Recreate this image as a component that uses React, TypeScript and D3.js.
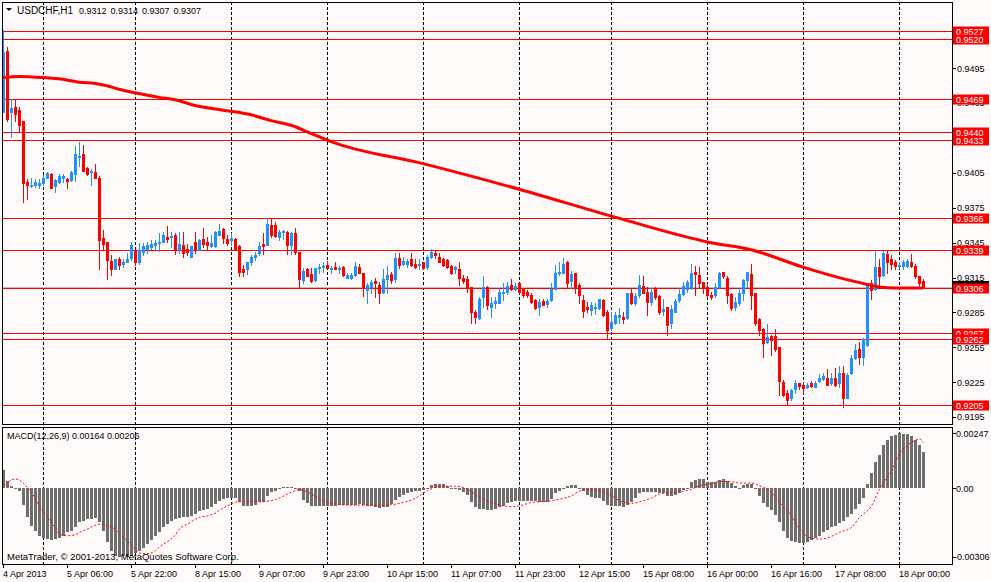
import { useEffect } from 'react';
import * as d3 from 'd3';

// USDCHF H1 candles, 4 Apr 2013 14:00 .. 18 Apr 2013 ~04:00
const opens = [
  0.9457, 0.9510, 0.9457, 0.9462, 0.9459, 0.9450, 0.9397, 0.9394, 0.9395, 0.9395,
  0.9396, 0.9401, 0.9404, 0.9394, 0.9397, 0.9401, 0.9400, 0.9399, 0.9404, 0.9419,
  0.9421, 0.9409, 0.9406, 0.9406, 0.9401, 0.9349, 0.9346, 0.9329, 0.9322, 0.9331,
  0.9327, 0.9328, 0.9332, 0.9339, 0.9328, 0.9337, 0.9340, 0.9341, 0.9343, 0.9345,
  0.9346, 0.9350, 0.9350, 0.9352, 0.9340, 0.9343, 0.9340, 0.9333, 0.9346, 0.9339,
  0.9348, 0.9346, 0.9342, 0.9342, 0.9352, 0.9357, 0.9348, 0.9347, 0.9348, 0.9342,
  0.9322, 0.9322, 0.9328, 0.9333, 0.9336, 0.9344, 0.9343, 0.9360, 0.9360, 0.9350,
  0.9354, 0.9354, 0.9343, 0.9353, 0.9337, 0.9313, 0.9322, 0.9318, 0.9313, 0.9323,
  0.9324, 0.9326, 0.9322, 0.9324, 0.9322, 0.9324, 0.9315, 0.9315, 0.9317, 0.9324,
  0.9319, 0.9304, 0.9307, 0.9312, 0.9309, 0.9303, 0.9314, 0.9318, 0.9314, 0.9332,
  0.9327, 0.9327, 0.9331, 0.9327, 0.9326, 0.9328, 0.9324, 0.9333, 0.9336, 0.9333,
  0.9331, 0.9330, 0.9325, 0.9322, 0.9322, 0.9315, 0.9314, 0.9307, 0.9285, 0.9280,
  0.9298, 0.9307, 0.9290, 0.9293, 0.9293, 0.9302, 0.9303, 0.9309, 0.9305, 0.9310,
  0.9305, 0.9303, 0.9300, 0.9296, 0.9290, 0.9295, 0.9292, 0.9296, 0.9305, 0.9319,
  0.9319, 0.9328, 0.9312, 0.9319, 0.9309, 0.9296, 0.9290, 0.9287, 0.9289, 0.9289,
  0.9296, 0.9285, 0.9272, 0.9276, 0.9281, 0.9281, 0.9280, 0.9302, 0.9293, 0.9300,
  0.9308, 0.9303, 0.9294, 0.9305, 0.9299, 0.9286, 0.9290, 0.9276, 0.9285, 0.9296,
  0.9301, 0.9305, 0.9306, 0.9320, 0.9317, 0.9311, 0.9307, 0.9300, 0.9300, 0.9307,
  0.9320, 0.9315, 0.9301, 0.9290, 0.9293, 0.9302, 0.9313, 0.9318, 0.9302, 0.9279,
  0.9271, 0.9260, 0.9265, 0.9265, 0.9255, 0.9225, 0.9216, 0.9211, 0.9219, 0.9224,
  0.9223, 0.9221, 0.9224, 0.9221, 0.9226, 0.9228, 0.9229, 0.9224, 0.9229, 0.9224,
  0.9233, 0.9211, 0.9233, 0.9246, 0.9254, 0.9247, 0.9257, 0.9310, 0.9305, 0.9324,
  0.9317, 0.9335, 0.9331, 0.9328, 0.9325, 0.9325, 0.9325, 0.9328, 0.9325, 0.9316,
  0.9312,
];
const highs = [
  0.9528, 0.9513, 0.9469, 0.9469, 0.9462, 0.9450, 0.9400, 0.9401, 0.9400, 0.9400,
  0.9403, 0.9406, 0.9405, 0.9400, 0.9404, 0.9404, 0.9401, 0.9407, 0.9428, 0.9432,
  0.9429, 0.9410, 0.9408, 0.9413, 0.9402, 0.9356, 0.9346, 0.9334, 0.9331, 0.9333,
  0.9331, 0.9336, 0.9346, 0.9339, 0.9345, 0.9345, 0.9346, 0.9347, 0.9347, 0.9353,
  0.9354, 0.9359, 0.9354, 0.9353, 0.9354, 0.9354, 0.9344, 0.9342, 0.9354, 0.9348,
  0.9358, 0.9350, 0.9352, 0.9355, 0.9361, 0.9358, 0.9352, 0.9353, 0.9349, 0.9343,
  0.9326, 0.9328, 0.9334, 0.9337, 0.9346, 0.9353, 0.9366, 0.9365, 0.9363, 0.9356,
  0.9356, 0.9355, 0.9354, 0.9358, 0.9337, 0.9323, 0.9323, 0.9323, 0.9323, 0.9327,
  0.9328, 0.9329, 0.9325, 0.9328, 0.9325, 0.9325, 0.9319, 0.9319, 0.9328, 0.9327,
  0.9319, 0.9310, 0.9313, 0.9315, 0.9311, 0.9322, 0.9325, 0.9320, 0.9336, 0.9336,
  0.9333, 0.9331, 0.9336, 0.9331, 0.9331, 0.9328, 0.9334, 0.9340, 0.9338, 0.9336,
  0.9332, 0.9331, 0.9326, 0.9325, 0.9328, 0.9317, 0.9316, 0.9307, 0.9287, 0.9298,
  0.9316, 0.9308, 0.9298, 0.9298, 0.9305, 0.9310, 0.9311, 0.9314, 0.9310, 0.9310,
  0.9306, 0.9304, 0.9302, 0.9297, 0.9297, 0.9297, 0.9297, 0.9310, 0.9326, 0.9328,
  0.9332, 0.9329, 0.9321, 0.9319, 0.9310, 0.9300, 0.9294, 0.9294, 0.9293, 0.9297,
  0.9297, 0.9287, 0.9285, 0.9285, 0.9289, 0.9285, 0.9302, 0.9305, 0.9302, 0.9317,
  0.9316, 0.9307, 0.9306, 0.9307, 0.9300, 0.9297, 0.9290, 0.9291, 0.9297, 0.9306,
  0.9311, 0.9313, 0.9327, 0.9325, 0.9324, 0.9311, 0.9310, 0.9303, 0.9310, 0.9320,
  0.9320, 0.9316, 0.9302, 0.9298, 0.9306, 0.9314, 0.9320, 0.9327, 0.9302, 0.9280,
  0.9272, 0.9275, 0.9266, 0.9271, 0.9255, 0.9227, 0.9218, 0.9219, 0.9227, 0.9224,
  0.9224, 0.9224, 0.9226, 0.9226, 0.9232, 0.9233, 0.9236, 0.9233, 0.9237, 0.9239,
  0.9239, 0.9233, 0.9248, 0.9258, 0.9260, 0.9263, 0.9310, 0.9313, 0.9339, 0.9331,
  0.9338, 0.9338, 0.9334, 0.9330, 0.9328, 0.9330, 0.9331, 0.9335, 0.9327, 0.9316,
  0.9314,
];
const lows = [
  0.9457, 0.9450, 0.9436, 0.9450, 0.9440, 0.9380, 0.9383, 0.9393, 0.9393, 0.9392,
  0.9395, 0.9401, 0.9392, 0.9389, 0.9396, 0.9397, 0.9392, 0.9398, 0.9398, 0.9411,
  0.9407, 0.9403, 0.9395, 0.9401, 0.9322, 0.9340, 0.9314, 0.9317, 0.9322, 0.9322,
  0.9324, 0.9328, 0.9330, 0.9326, 0.9327, 0.9334, 0.9336, 0.9340, 0.9340, 0.9338,
  0.9346, 0.9346, 0.9341, 0.9335, 0.9336, 0.9333, 0.9334, 0.9333, 0.9336, 0.9339,
  0.9341, 0.9340, 0.9341, 0.9341, 0.9352, 0.9345, 0.9343, 0.9343, 0.9340, 0.9316,
  0.9316, 0.9318, 0.9326, 0.9330, 0.9334, 0.9335, 0.9343, 0.9350, 0.9350, 0.9347,
  0.9348, 0.9335, 0.9335, 0.9335, 0.9306, 0.9310, 0.9316, 0.9311, 0.9312, 0.9319,
  0.9320, 0.9323, 0.9319, 0.9322, 0.9319, 0.9316, 0.9315, 0.9314, 0.9316, 0.9319,
  0.9299, 0.9293, 0.9302, 0.9298, 0.9293, 0.9302, 0.9302, 0.9310, 0.9311, 0.9323,
  0.9326, 0.9324, 0.9325, 0.9323, 0.9322, 0.9322, 0.9322, 0.9332, 0.9332, 0.9328,
  0.9325, 0.9323, 0.9318, 0.9319, 0.9309, 0.9310, 0.9303, 0.9276, 0.9276, 0.9279,
  0.9290, 0.9288, 0.9281, 0.9289, 0.9293, 0.9296, 0.9301, 0.9304, 0.9304, 0.9302,
  0.9298, 0.9298, 0.9293, 0.9288, 0.9283, 0.9291, 0.9290, 0.9295, 0.9305, 0.9317,
  0.9319, 0.9306, 0.9306, 0.9302, 0.9293, 0.9281, 0.9285, 0.9283, 0.9284, 0.9288,
  0.9282, 0.9262, 0.9270, 0.9275, 0.9276, 0.9276, 0.9279, 0.9292, 0.9291, 0.9298,
  0.9302, 0.9283, 0.9291, 0.9297, 0.9284, 0.9283, 0.9266, 0.9272, 0.9285, 0.9294,
  0.9300, 0.9303, 0.9305, 0.9300, 0.9306, 0.9302, 0.9298, 0.9297, 0.9298, 0.9306,
  0.9315, 0.9293, 0.9287, 0.9287, 0.9291, 0.9296, 0.9307, 0.9288, 0.9274, 0.9266,
  0.9247, 0.9259, 0.9248, 0.9252, 0.9214, 0.9213, 0.9205, 0.9210, 0.9216, 0.9219,
  0.9216, 0.9220, 0.9221, 0.9221, 0.9225, 0.9227, 0.9223, 0.9223, 0.9222, 0.9221,
  0.9204, 0.9211, 0.9232, 0.9245, 0.9241, 0.9240, 0.9256, 0.9297, 0.9304, 0.9309,
  0.9316, 0.9319, 0.9322, 0.9322, 0.9323, 0.9322, 0.9324, 0.9324, 0.9315, 0.9307,
  0.9307,
];
const closes = [
  0.9509, 0.9451, 0.9461, 0.9456, 0.9446, 0.9396, 0.9395, 0.9395, 0.9397, 0.9396,
  0.9401, 0.9405, 0.9392, 0.9399, 0.9402, 0.9402, 0.9398, 0.9406, 0.9421, 0.9420,
  0.9407, 0.9404, 0.9407, 0.9401, 0.9347, 0.9344, 0.9330, 0.9322, 0.9331, 0.9326,
  0.9328, 0.9331, 0.9343, 0.9328, 0.9339, 0.9342, 0.9343, 0.9344, 0.9345, 0.9346,
  0.9352, 0.9348, 0.9351, 0.9340, 0.9344, 0.9336, 0.9337, 0.9342, 0.9339, 0.9347,
  0.9344, 0.9343, 0.9345, 0.9354, 0.9355, 0.9349, 0.9345, 0.9349, 0.9340, 0.9320,
  0.9320, 0.9328, 0.9333, 0.9334, 0.9342, 0.9342, 0.9361, 0.9352, 0.9351, 0.9354,
  0.9355, 0.9343, 0.9353, 0.9337, 0.9314, 0.9321, 0.9316, 0.9312, 0.9323, 0.9324,
  0.9325, 0.9323, 0.9323, 0.9322, 0.9323, 0.9317, 0.9317, 0.9317, 0.9325, 0.9319,
  0.9307, 0.9309, 0.9311, 0.9310, 0.9302, 0.9314, 0.9317, 0.9313, 0.9332, 0.9326,
  0.9329, 0.9329, 0.9326, 0.9324, 0.9327, 0.9323, 0.9333, 0.9337, 0.9334, 0.9328,
  0.9326, 0.9324, 0.9319, 0.9324, 0.9315, 0.9312, 0.9306, 0.9285, 0.9281, 0.9297,
  0.9307, 0.9291, 0.9293, 0.9295, 0.9303, 0.9303, 0.9308, 0.9305, 0.9308, 0.9303,
  0.9300, 0.9300, 0.9294, 0.9289, 0.9294, 0.9291, 0.9295, 0.9305, 0.9319, 0.9320,
  0.9327, 0.9310, 0.9318, 0.9307, 0.9300, 0.9286, 0.9288, 0.9291, 0.9290, 0.9297,
  0.9283, 0.9270, 0.9277, 0.9283, 0.9283, 0.9279, 0.9302, 0.9293, 0.9299, 0.9309,
  0.9302, 0.9294, 0.9303, 0.9298, 0.9285, 0.9288, 0.9274, 0.9288, 0.9295, 0.9301,
  0.9308, 0.9311, 0.9319, 0.9318, 0.9310, 0.9307, 0.9300, 0.9298, 0.9307, 0.9319,
  0.9316, 0.9300, 0.9289, 0.9294, 0.9302, 0.9313, 0.9320, 0.9300, 0.9276, 0.9270,
  0.9259, 0.9264, 0.9261, 0.9254, 0.9226, 0.9214, 0.9210, 0.9218, 0.9224, 0.9222,
  0.9220, 0.9223, 0.9222, 0.9224, 0.9229, 0.9230, 0.9223, 0.9229, 0.9223, 0.9233,
  0.9211, 0.9231, 0.9246, 0.9253, 0.9247, 0.9262, 0.9310, 0.9304, 0.9324, 0.9316,
  0.9336, 0.9328, 0.9327, 0.9325, 0.9326, 0.9328, 0.9329, 0.9325, 0.9316, 0.9310,
  0.9307,
];

// thick red moving average, read at sample bars
const maIdx = [0, 4, 10, 16, 19, 23, 26, 29, 33, 39, 43, 48, 55, 62, 67, 72, 77, 82, 105, 129, 153, 177, 187, 200, 209, 215, 219, 223, 230];
const maVal = [0.9487, 0.9488, 0.9487, 0.9485, 0.9483, 0.9482, 0.9480, 0.9477, 0.9474, 0.9470, 0.9468, 0.9463, 0.9459, 0.9455, 0.9450, 0.9446, 0.9439, 0.9432, 0.9413, 0.9391, 0.9367, 0.9345, 0.9339, 0.9324, 0.9315, 0.9310, 0.9307, 0.9306, 0.9306];

// MACD(12,26,9) histogram per bar
const macdHist = [
  0.00084, 0.00034, 0.00012, 0.00001, -0.00013, -0.00075, -0.00130, -0.00167, -0.00193, -0.00212,
  -0.00220, -0.00227, -0.00229, -0.00227, -0.00223, -0.00212, -0.00197, -0.00190, -0.00172, -0.00152,
  -0.00145, -0.00139, -0.00135, -0.00133, -0.00152, -0.00190, -0.00242, -0.00279, -0.00302, -0.00306,
  -0.00305, -0.00306, -0.00302, -0.00291, -0.00279, -0.00265, -0.00250, -0.00232, -0.00212, -0.00194,
  -0.00175, -0.00160, -0.00145, -0.00138, -0.00133, -0.00130, -0.00130, -0.00123, -0.00115, -0.00103,
  -0.00097, -0.00090, -0.00082, -0.00070, -0.00058, -0.00049, -0.00045, -0.00045, -0.00043, -0.00063,
  -0.00078, -0.00081, -0.00081, -0.00075, -0.00063, -0.00060, -0.00033, -0.00018, -0.00010, 0.00004,
  0.00007, 0.00008, 0.00006, 0.00000, -0.00010, -0.00051, -0.00066, -0.00081, -0.00081, -0.00081,
  -0.00081, -0.00081, -0.00079, -0.00078, -0.00075, -0.00075, -0.00075, -0.00075, -0.00073, -0.00070,
  -0.00073, -0.00078, -0.00081, -0.00082, -0.00088, -0.00085, -0.00082, -0.00070, -0.00052, -0.00037,
  -0.00028, -0.00022, -0.00016, -0.00013, -0.00010, -0.00006, 0.00004, 0.00015, 0.00022, 0.00022,
  0.00022, 0.00012, 0.00004, 0.00000, -0.00007, -0.00015, -0.00028, -0.00063, -0.00085, -0.00090,
  -0.00093, -0.00097, -0.00097, -0.00093, -0.00085, -0.00078, -0.00067, -0.00060, -0.00055, -0.00055,
  -0.00055, -0.00055, -0.00055, -0.00058, -0.00063, -0.00063, -0.00060, -0.00048, -0.00022, -0.00010,
  0.00004, 0.00009, 0.00015, 0.00015, 0.00004, -0.00010, -0.00028, -0.00037, -0.00043, -0.00045,
  -0.00055, -0.00073, -0.00081, -0.00081, -0.00081, -0.00085, -0.00073, -0.00060, -0.00043, -0.00021,
  -0.00018, -0.00018, -0.00018, -0.00015, -0.00021, -0.00022, -0.00036, -0.00036, -0.00028, -0.00021,
  -0.00007, 0.00004, 0.00027, 0.00039, 0.00042, 0.00042, 0.00030, 0.00027, 0.00030, 0.00039,
  0.00042, 0.00034, 0.00024, 0.00009, 0.00004, 0.00015, 0.00022, 0.00022, -0.00003, -0.00033,
  -0.00066, -0.00085, -0.00097, -0.00120, -0.00152, -0.00193, -0.00223, -0.00235, -0.00239, -0.00244,
  -0.00245, -0.00238, -0.00232, -0.00223, -0.00212, -0.00194, -0.00185, -0.00175, -0.00167, -0.00155,
  -0.00145, -0.00126, -0.00115, -0.00093, -0.00070, -0.00045, 0.00022, 0.00067, 0.00120, 0.00151,
  0.00194, 0.00218, 0.00233, 0.00240, 0.00247, 0.00245, 0.00243, 0.00236, 0.00215, 0.00196,
  0.00164,
];

// signal line, read at sample bars
const signalIdx = [0, 1, 3, 4, 5, 7, 9, 11, 13, 14, 16, 18, 19, 21, 23, 24, 26, 28, 29, 31, 33, 34, 36, 38, 39, 41, 43, 44, 46, 48, 49, 51, 53, 54, 56, 58, 61, 64, 68, 71, 74, 78, 81, 87, 95, 99, 103, 106, 109, 113, 116, 119, 122, 125, 127, 129, 132, 134, 137, 139, 142, 144, 147, 149, 152, 154, 157, 159, 162, 164, 167, 169, 172, 174, 177, 179, 182, 184, 187, 189, 192, 194, 197, 199, 202, 204, 207, 209, 212, 214, 217, 219, 222, 224, 227, 229, 230];
const signalVal = [0.00004, 0.00027, 0.00042, 0.00037, 0.00022, -0.00018, -0.00078, -0.00130, -0.00178, -0.00205, -0.00212, -0.00207, -0.00197, -0.00182, -0.00165, -0.00160, -0.00167, -0.00185, -0.00205, -0.00235, -0.00275, -0.00290, -0.00292, -0.00278, -0.00262, -0.00238, -0.00208, -0.00182, -0.00160, -0.00138, -0.00130, -0.00123, -0.00110, -0.00097, -0.00078, -0.00062, -0.00058, -0.00060, -0.00050, -0.00025, -0.00006, -0.00035, -0.00063, -0.00075, -0.00075, -0.00067, -0.00044, -0.00010, 0.00009, 0.00010, -0.00003, -0.00040, -0.00062, -0.00078, -0.00082, -0.00078, -0.00063, -0.00060, -0.00055, -0.00048, -0.00033, -0.00012, -0.00003, -0.00010, -0.00033, -0.00055, -0.00067, -0.00060, -0.00043, -0.00025, -0.00018, -0.00015, -0.00003, 0.00012, 0.00022, 0.00031, 0.00030, 0.00024, 0.00024, 0.00012, -0.00018, -0.00063, -0.00123, -0.00182, -0.00223, -0.00227, -0.00215, -0.00197, -0.00175, -0.00130, -0.00078, -0.00003, 0.00079, 0.00154, 0.00206, 0.00221, 0.00206];

// horizontal levels, in drawing order
const levels = [0.9527, 0.9520, 0.9433, 0.9440, 0.9469, 0.9366, 0.9339, 0.9306, 0.9267, 0.9262, 0.9205];
const bidPrice = 0.9307;
const priceTicks = [0.9525, 0.9495, 0.9465, 0.9435, 0.9405, 0.9375, 0.9345, 0.9315, 0.9285, 0.9255, 0.9225, 0.9195];
const macdTicks = [0.00247, 0, -0.00306];
const macdTickLabels = ['0.00247', '0.00', '-0.00306'];

const timeIdx = [0, 16, 32, 48, 64, 80, 96, 112, 128, 144, 160, 176, 192, 208, 224];
const timeLabels = ['4 Apr 2013', '5 Apr 06:00', '5 Apr 22:00', '8 Apr 15:00', '9 Apr 07:00', '9 Apr 23:00', '10 Apr 15:00', '11 Apr 07:00', '11 Apr 23:00', '12 Apr 15:00', '15 Apr 08:00', '16 Apr 00:00', '16 Apr 16:00', '17 Apr 08:00', '18 Apr 00:00'];
const dayIdx = [10, 33, 57, 81, 105, 129, 152, 176, 200, 224];

const W = 991;
const H = 582;
const left = 2;
const right = 952;
const mainTop = 2;
const mainBottom = 424;
const macdTop = 427;
const macdBottom = 564;
const BG = '#fffafa';
const BULL = '#1e90ff';
const BEAR = '#ff0000';
const FONT = "'Liberation Sans', Arial, sans-serif";

export default function App() {
  useEffect(() => {
    document.body.style.margin = '0';
    document.body.style.background = BG;
  }, []);

  const x = d3.scaleLinear().domain([0, 230]).range([3, 923]);
  const y = d3.scaleLinear().domain([0.9195, 0.9495]).range([417.1, 68.3]);
  const ym = d3.scaleLinear().domain([-0.00306, 0.00247]).range([556.7, 433.3]);
  const px = (i: number) => Math.round(x(i));

  const maLine = d3.line<number>()
    .x((_, k) => x(maIdx[k]))
    .y(d => y(d))
    .curve(d3.curveMonotoneX);

  const sigLine = d3.line<number>()
    .x((_, k) => x(signalIdx[k]) + 0.5)
    .y(d => ym(d))
    .curve(d3.curveMonotoneX);

  const fmt = d3.format('.4f');

  return (
    <svg width={W} height={H} style={{ display: 'block', background: BG }} fontFamily={FONT}>
      <rect x={0} y={0} width={W} height={H} fill={BG} />

      {/* day separators */}
      <g stroke="#000" strokeDasharray="3,2" shapeRendering="crispEdges">
        {dayIdx.map(i => (
          <line key={i} x1={px(i) + 0.5} x2={px(i) + 0.5} y1={mainTop} y2={macdBottom} />
        ))}
      </g>

      {/* bid line and levels */}
      <line x1={left} x2={right} y1={Math.round(y(bidPrice)) + 0.5} y2={Math.round(y(bidPrice)) + 0.5} stroke="#c0c0c0" shapeRendering="crispEdges" />
      <g stroke={BEAR} shapeRendering="crispEdges">
        {levels.map(l => (
          <line key={l} x1={left} x2={right} y1={Math.round(y(l)) + 0.5} y2={Math.round(y(l)) + 0.5} />
        ))}
      </g>

      {/* candles */}
      <g shapeRendering="crispEdges">
        {closes.map((c, i) => {
          const o = opens[i];
          const col = c >= o ? BULL : BEAR;
          const top = Math.round(y(Math.max(o, c)));
          const bot = Math.round(y(Math.min(o, c)));
          return (
            <g key={i}>
              <line x1={px(i) + 0.5} x2={px(i) + 0.5} y1={Math.round(y(highs[i]))} y2={Math.round(y(lows[i])) + 1} stroke={col} />
              <rect x={px(i) - 1} y={top} width={3} height={Math.max(1, bot - top + 1)} fill={col} />
            </g>
          );
        })}
      </g>

      {/* moving average */}
      <path d={maLine(maVal) || ''} fill="none" stroke={BEAR} strokeWidth={3} />

      {/* MACD histogram */}
      <g fill="#6e6e6e" shapeRendering="crispEdges">
        {macdHist.map((v, i) => {
          const y0 = Math.round(ym(0));
          const y1 = Math.round(ym(v));
          return <rect key={i} x={px(i) - 1} y={Math.min(y0, y1)} width={3} height={Math.max(1, Math.abs(y1 - y0))} />;
        })}
      </g>
      <path d={sigLine(signalVal) || ''} fill="none" stroke={BEAR} strokeWidth={1} strokeDasharray="2,2" />

      {/* panel frames */}
      <g fill="none" stroke="#000" shapeRendering="crispEdges">
        <rect x={left + 0.5} y={mainTop + 0.5} width={right - left} height={mainBottom - mainTop} />
        <rect x={left + 0.5} y={macdTop + 0.5} width={right - left} height={macdBottom - macdTop} />
      </g>

      {/* price axis */}
      <g fontSize={9} fill="#000">
        {priceTicks.map(t => (
          <g key={t}>
            <line x1={right} x2={right + 4} y1={Math.round(y(t)) + 0.5} y2={Math.round(y(t)) + 0.5} stroke="#000" shapeRendering="crispEdges" />
            <text x={right + 5} y={y(t) + 3.3}>{fmt(t)}</text>
          </g>
        ))}
      </g>
      <rect x={right + 1} y={Math.round(y(bidPrice)) - 6} width={36} height={10} fill="#000" />
      <g fontSize={9}>
        {levels.map(l => (
          <g key={l}>
            <rect x={right + 1} y={Math.round(y(l)) - 4.5} width={36} height={10} fill={BEAR} />
            <text x={right + 4} y={Math.round(y(l)) + 3.8} fill="#fff">{fmt(l)}</text>
          </g>
        ))}
      </g>

      {/* MACD axis */}
      <g fontSize={9} fill="#000">
        {macdTicks.map((t, k) => (
          <g key={k}>
            <line x1={right} x2={right + 4} y1={Math.round(ym(t)) + 0.5} y2={Math.round(ym(t)) + 0.5} stroke="#000" shapeRendering="crispEdges" />
            <text x={k === 2 ? right + 2 : right + 4} y={ym(t) + 3.3}>{macdTickLabels[k]}</text>
          </g>
        ))}
      </g>

      {/* time axis */}
      <g fontSize={9} fill="#000">
        {timeIdx.map((i, k) => (
          <g key={i}>
            <line x1={px(i) + 0.5} x2={px(i) + 0.5} y1={macdBottom} y2={macdBottom + 4} stroke="#000" shapeRendering="crispEdges" />
            <text x={px(i)} y={577}>{timeLabels[k]}</text>
          </g>
        ))}
      </g>

      {/* captions */}
      <path d="M6,8 L12,8 L9,11 Z" fill="#000" />
      <text x={17} y={14} fontSize={10} fill="#000">USDCHF,H1</text>
      <text x={79} y={14} fontSize={9} fill="#000" wordSpacing={1.5}>0.9312 0.9314 0.9307 0.9307</text>
      <text x={7} y={439} fontSize={9} fill="#000">MACD(12,26,9) 0.00164 0.00206</text>
      <text x={7} y={560} fontSize={9.5} fill="#000">MetaTrader, © 2001-2013, MetaQuotes Software Corp.</text>
    </svg>
  );
}
